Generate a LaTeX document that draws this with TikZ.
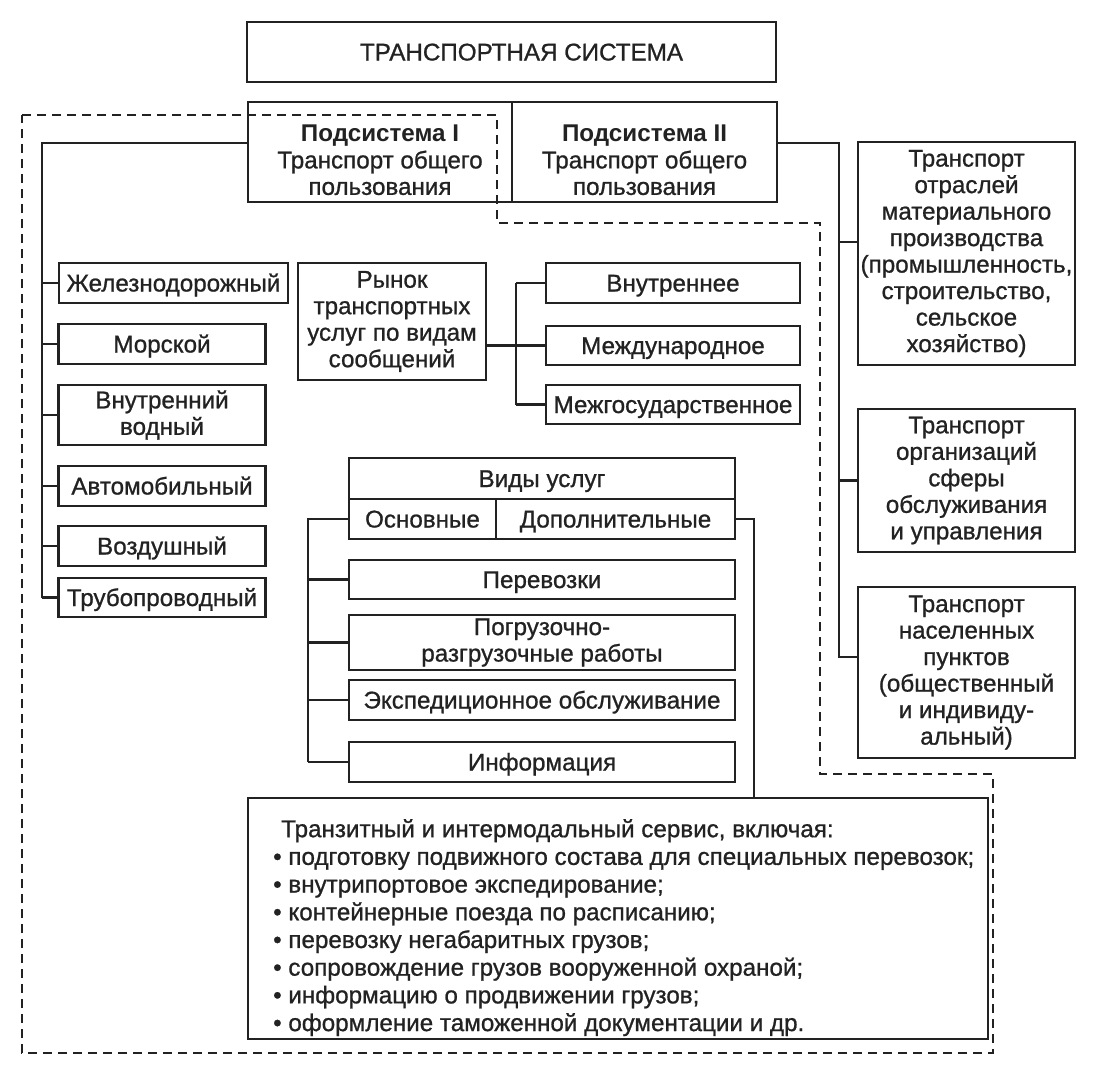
\documentclass[tikz,border=0pt]{standalone}
\usepackage{fontspec}
\setmainfont{Liberation Sans}[UprightFeatures={FakeBold=0.9}]
\definecolor{ink}{HTML}{222222}
\begin{document}
\begin{tikzpicture}[x=1pt, y=-1pt,
                    box/.style={draw=ink, line width=2.7pt, inner sep=0pt, align=center, text=ink,
                                font=\fontsize{24.2}{26.5}\selectfont},
                    cell/.style={box, text height=21pt, text depth=4pt},
                    link/.style={draw=ink, line width=2.7pt},
                    zone/.style={draw=ink, line width=2.4pt, dash pattern=on 9pt off 6pt}]
\fill[white] (0,0) rectangle (1100,1080);
\useasboundingbox (0,0) rectangle (1100,1080);
\node[cell, minimum width=529pt, minimum height=60pt] (sys) at (511.5,52) {\hspace*{20pt}ТРАНСПОРТНАЯ СИСТЕМА};
\node[box, minimum width=264pt, minimum height=100pt] (subA) at (380,152) {\rule{0pt}{33pt}\textbf{Подсистема I}\\Транспорт общего\\пользования};
\node[box, minimum width=265pt, minimum height=100pt] (subB) at (644.5,152) {\rule{0pt}{33pt}\textbf{Подсистема II}\\Транспорт общего\\пользования};
\node[cell, minimum width=229pt, minimum height=40pt] (rail) at (173.5,283) {Железнодорожный};
\node[cell, minimum width=207pt, minimum height=40pt] (sea) at (162,344) {Морской};
\node[box, minimum width=207pt, minimum height=60pt] (inland) at (162,415) {Внутренний\\водный};
\node[cell, minimum width=207pt, minimum height=40pt] (auto) at (162,486) {Автомобильный};
\node[cell, minimum width=207pt, minimum height=40pt] (air) at (162,546) {Воздушный};
\node[cell, minimum width=207pt, minimum height=39pt] (pipe) at (162,597.5) {Трубопроводный};
\node[box, minimum width=188pt, minimum height=117pt] (market) at (392,321.5) {Рынок\\транспортных\\услуг по видам\\сообщений};
\node[cell, minimum width=254pt, minimum height=40pt] (dom) at (673,283) {Внутреннее};
\node[cell, minimum width=254pt, minimum height=39pt] (intl) at (673,345.5) {Международное};
\node[cell, minimum width=254pt, minimum height=39pt] (inter) at (673,404.5) {Межгосударственное};
\node[cell, minimum width=386pt, minimum height=41pt] (kinds) at (542,478.5) {Виды услуг};
\node[cell, minimum width=147pt, minimum height=40pt] (basic) at (422.5,519) {Основные};
\node[cell, minimum width=239pt, minimum height=40pt] (extra) at (615.5,519) {Дополнительные};
\node[cell, minimum width=386pt, minimum height=39pt] (carry) at (542,579.5) {Перевозки};
\node[box, minimum width=386pt, minimum height=55pt] (load) at (542,642.5) {Погрузочно-\\разгрузочные работы};
\node[cell, minimum width=386pt, minimum height=40pt] (forward) at (542,700) {Экспедиционное обслуживание};
\node[cell, minimum width=386pt, minimum height=40pt] (info) at (542,762) {Информация};
\node[box, minimum width=740pt, minimum height=241pt] (transit) at (618,918.5) {};
\node[anchor=north west, align=left, inner sep=0pt, text=ink,
      font=\fontsize{24.2}{27.7}\selectfont] (offer) at (273,819) {\hspace*{8pt}Транзитный и интермодальный сервис, включая:\\
• подготовку подвижного состава для специальных перевозок;\\
• внутрипортовое экспедирование;\\
• контейнерные поезда по расписанию;\\
• перевозку негабаритных грузов;\\
• сопровождение грузов вооруженной охраной;\\
• информацию о продвижении грузов;\\
• оформление таможенной документации и др.};
\node[box, minimum width=217pt, minimum height=223pt] (mat) at (966.5,253.5) {Транспорт\\отраслей\\материального\\производства\\(промышленность,\\строительство,\\сельское\\хозяйство)};
\node[box, minimum width=217pt, minimum height=143pt] (org) at (966.5,480.5) {Транспорт\\организаций\\сферы\\обслуживания\\и управления};
\node[box, minimum width=217pt, minimum height=171pt] (settle) at (966.5,672.5) {Транспорт\\населенных\\пунктов\\(общественный\\и индивиду-\\альный)};
\coordinate (lt) at (42,143);
\coordinate (mt) at (516,283);
\coordinate (rt) at (839,143);
\coordinate (st) at (308,519);
\coordinate (et) at (754,519);
\coordinate (matin) at ([yshift=11.5pt]mat.west);
\coordinate (setin) at ([yshift=15.5pt]settle.west);
\draw[link] ([yshift=9pt]subA.west) -- (lt) -- (lt |- pipe.west);
\foreach \n in {rail,sea,inland,auto,air,pipe}
    \draw[link] (\n.west -| lt) -- (\n.west);
\draw[link] (market.east |- intl.west) -- (intl.west -| mt);
\draw[link] (dom.west -| mt) -- (inter.west -| mt);
\foreach \n in {dom,intl,inter}
    \draw[link] (\n.west -| mt) -- (\n.west);
\draw[link] (basic.west) -- (st) -- (st |- info.west);
\foreach \n in {carry,load,forward,info}
    \draw[link] (\n.west -| st) -- (\n.west);
\draw[link] (extra.east) -- (et) -- (et |- transit.north);
\draw[link] ([yshift=9pt]subB.east) -- (rt) -- (rt |- setin) -- (setin);
\draw[link] (matin -| rt) -- (matin);
\draw[link] (org.west -| rt) -- (org.west);
\draw[zone] (22,115) -- (497,115) -- (497,223) -- (820,223) -- (820,774) -- (993,774)
            -- (993,1053) -- (22,1053) -- cycle;
\end{tikzpicture}
\end{document}
